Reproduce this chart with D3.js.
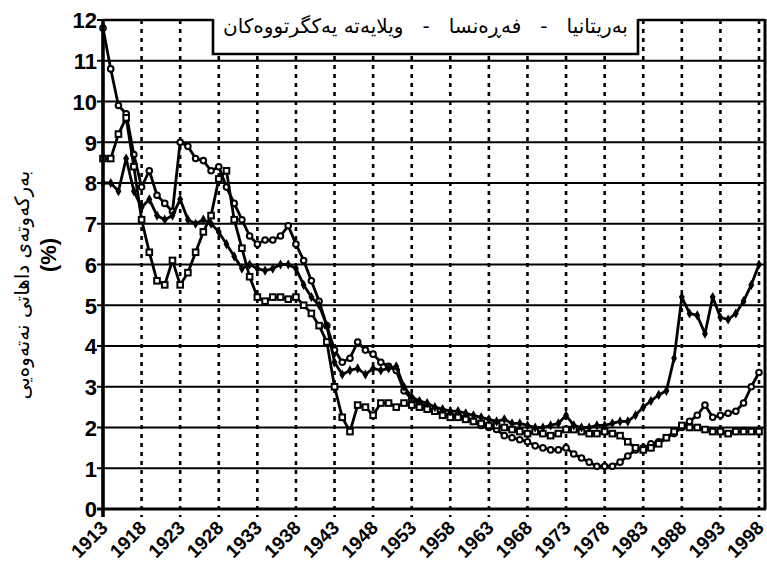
<!DOCTYPE html>
<html>
<head>
<meta charset="utf-8">
<script src="https://cdnjs.cloudflare.com/ajax/libs/d3/7.8.5/d3.min.js"></script>
<style>
  body { margin: 0; background: #fff; }
  svg { display: block; }
</style>
</head>
<body>
<svg id="chart" width="767" height="579"></svg>
<script>
// years on the x axis
var years = [
  1913, 1914, 1915, 1916, 1917, 1918, 1919, 1920, 1921, 1922,
  1923, 1924, 1925, 1926, 1927, 1928, 1929, 1930, 1931, 1932,
  1933, 1934, 1935, 1936, 1937, 1938, 1939, 1940, 1941, 1942,
  1943, 1944, 1945, 1946, 1947, 1948, 1949, 1950, 1951, 1952,
  1953, 1954, 1955, 1956, 1957, 1958, 1959, 1960, 1961, 1962,
  1963, 1964, 1965, 1966, 1967, 1968, 1969, 1970, 1971, 1972,
  1973, 1974, 1975, 1976, 1977, 1978, 1979, 1980, 1981, 1982,
  1983, 1984, 1985, 1986, 1987, 1988, 1989, 1990, 1991, 1992,
  1993, 1994, 1995, 1996, 1997, 1998
];

// بەریتانیا
var britain = [
  11.8, 10.8, 9.9, 9.7, 8.7, 7.9, 8.3, 7.7, 7.5, 7.3,
  9.0, 8.9, 8.6, 8.55, 8.3, 8.4, 7.9, 7.5, 7.1, 6.7,
  6.5, 6.6, 6.6, 6.7, 6.95, 6.5, 6.1, 5.6, 5.1, 4.5,
  3.9, 3.6, 3.7, 4.1, 3.9, 3.8, 3.6, 3.5, 3.4, 2.9,
  2.7, 2.6, 2.5, 2.4, 2.35, 2.3, 2.3, 2.25, 2.15, 2.05,
  2.0, 1.95, 1.8, 1.75, 1.7, 1.65, 1.55, 1.5, 1.45, 1.45,
  1.5, 1.35, 1.25, 1.15, 1.05, 1.05, 1.05, 1.15, 1.3, 1.45,
  1.5, 1.6, 1.65, 1.75, 1.85, 2.0, 2.15, 2.3, 2.55, 2.25,
  2.3, 2.35, 2.4, 2.6, 3.0, 3.35
];

// فەڕەنسا
var france = [
  8.6, 8.6, 9.2, 9.6, 8.4, 7.1, 6.3, 5.6, 5.5, 6.1,
  5.5, 5.8, 6.3, 6.8, 7.2, 8.1, 8.3, 7.1, 6.4, 5.7,
  5.2, 5.1, 5.2, 5.2, 5.15, 5.2, 5.0, 4.8, 4.5, 4.1,
  3.0, 2.25, 1.9, 2.55, 2.5, 2.3, 2.6, 2.6, 2.5, 2.6,
  2.55, 2.5, 2.45, 2.4, 2.3, 2.25, 2.25, 2.2, 2.15, 2.1,
  2.05, 2.05, 2.0, 1.95, 1.9, 1.85, 1.9, 1.85, 1.8, 1.85,
  1.95, 1.95, 1.9, 1.85, 1.85, 1.9, 1.85, 1.8, 1.65, 1.5,
  1.45, 1.5, 1.6, 1.75, 1.9, 2.05, 2.0, 2.0, 1.95, 1.9,
  1.9, 1.85, 1.9, 1.9, 1.9, 1.9
];

// ویلایەتە یەکگرتووەکان
var usa = [
  8.0, 8.0, 7.8, 8.6, 7.8, 7.4, 7.6, 7.2, 7.1, 7.2,
  7.6, 7.1, 7.0, 7.1, 7.0, 6.8, 6.5, 6.2, 5.9, 6.0,
  5.9, 5.85, 5.9, 6.0, 6.0, 5.9, 5.5, 5.2, 5.0, 4.5,
  3.6, 3.3, 3.4, 3.45, 3.3, 3.45, 3.4, 3.45, 3.5, 3.0,
  2.75, 2.65, 2.6, 2.5, 2.45, 2.4, 2.4, 2.35, 2.3, 2.25,
  2.2, 2.15, 2.2, 2.1, 2.1, 2.05, 2.0, 2.0, 2.05, 2.1,
  2.3, 2.05, 2.0, 2.0, 2.05, 2.05, 2.1, 2.15, 2.15, 2.3,
  2.5, 2.65, 2.8, 2.9, 3.7, 5.2, 4.8, 4.75, 4.3, 5.2,
  4.7, 4.65, 4.8, 5.1, 5.5, 6.0
];

var yTicks = [0, 1, 2, 3, 4, 5, 6, 7, 8, 9, 10, 11, 12];
var xTickLabels = ["1913", "1918", "1923", "1928", "1933", "1938", "1943", "1948", "1953",
                   "1958", "1963", "1968", "1973", "1978", "1983", "1988", "1993", "1998"];
var legendText = "بەریتانیا   -   فەڕەنسا   -   ویلایەتە یەکگرتووەکان";
var yTitle = "بەرکەوتەی داهاتی نەتەوەیی";
var yUnit = "(%)";

var svg = d3.select("#chart");
// note: "top" is a reserved window property, so plot edges get their own names
var plotL = 103, plotR = 765, plotT = 20, plotB = 509;
var boxL = 213, boxR = 638, boxB = 54;

var x = d3.scaleLinear().domain([1913, 1998]).range([plotL, 759]);
var y = d3.scaleLinear().domain([0, 12]).range([plotB, plotT]);

var tickFont = "'Liberation Sans', Arial, sans-serif";

// horizontal grid lines (solid)
svg.append("g").selectAll("line")
  .data(yTicks.filter(function(d){ return d > 0 && d < 12; }))
  .enter().append("line")
    .attr("x1", plotL).attr("x2", plotR)
    .attr("y1", function(d){ return y(d); })
    .attr("y2", function(d){ return y(d); })
    .attr("stroke", "#000").attr("stroke-width", 2.2);

// vertical grid lines (dotted)
svg.append("g").selectAll("line")
  .data(xTickLabels.slice(1))
  .enter().append("line")
    .attr("x1", function(d){ return x(+d); })
    .attr("x2", function(d){ return x(+d); })
    .attr("y1", plotT).attr("y2", plotB + 8)
    .attr("stroke", "#000").attr("stroke-width", 2.6)
    .attr("stroke-dasharray", "4,5");

// series
var series = [
  { name: "britain", values: britain, marker: "circle" },
  { name: "france", values: france, marker: "square" },
  { name: "usa", values: usa, marker: "diamond" }
];

var line = d3.line()
  .x(function(d, i){ return x(years[i]); })
  .y(function(d){ return y(d); });

series.forEach(function(s){
  var g = svg.append("g").attr("class", "series-" + s.name);
  g.append("path")
    .attr("d", line(s.values))
    .attr("fill", "none")
    .attr("stroke", "#000")
    .attr("stroke-width", 2.8)
    .attr("stroke-linejoin", "round");

  var pts = g.selectAll(".pt").data(s.values).enter();
  if(s.marker === "circle"){
    pts.append("circle")
      .attr("cx", function(d, i){ return x(years[i]); })
      .attr("cy", function(d){ return y(d); })
      .attr("r", 2.8)
      .attr("fill", "#fff").attr("stroke", "#000").attr("stroke-width", 2);
  }else if(s.marker === "square"){
    pts.append("rect")
      .attr("x", function(d, i){ return x(years[i]) - 2.8; })
      .attr("y", function(d){ return y(d) - 2.8; })
      .attr("width", 5.6).attr("height", 5.6)
      .attr("fill", "#fff").attr("stroke", "#000").attr("stroke-width", 2);
  }else{
    pts.append("path")
      .attr("d", d3.symbol().type(d3.symbolDiamond).size(30))
      .attr("transform", function(d, i){ return "translate(" + x(years[i]) + "," + y(d) + ")"; })
      .attr("fill", "#000");
  }
});

// legend box, sits over the top of the plot
svg.append("rect")
  .attr("x", boxL).attr("y", 0).attr("width", boxR - boxL).attr("height", boxB)
  .attr("fill", "#fff");
svg.append("path")
  .attr("d", "M" + boxL + "," + (plotT - 1) + "V" + boxB + "H" + boxR + "V" + (plotT - 1))
  .attr("fill", "none").attr("stroke", "#000").attr("stroke-width", 2.6);
svg.append("text")
  .attr("x", (boxL + boxR) / 2).attr("y", 33)
  .attr("text-anchor", "middle")
  .attr("direction", "rtl")
  .style("white-space", "pre")
  .attr("font-family", "'DejaVu Sans', sans-serif")
  .attr("font-size", 20)
  .text(legendText);

// frame
svg.append("path")
  .attr("d", "M" + plotL + "," + plotT + "H" + boxL + "M" + boxR + "," + plotT + "H" + plotR)
  .attr("stroke", "#000").attr("stroke-width", 2.6);
svg.append("line")
  .attr("x1", plotR).attr("x2", plotR).attr("y1", plotT - 1).attr("y2", plotB)
  .attr("stroke", "#000").attr("stroke-width", 3);
svg.append("line")
  .attr("x1", plotL - 6).attr("x2", plotR + 1).attr("y1", plotB).attr("y2", plotB)
  .attr("stroke", "#000").attr("stroke-width", 2.8);
svg.append("line")
  .attr("x1", plotL).attr("x2", plotL).attr("y1", plotT - 1).attr("y2", plotB + 8)
  .attr("stroke", "#000").attr("stroke-width", 3.6);

// y axis ticks and labels
var yAxis = svg.append("g");
yAxis.selectAll("line").data(yTicks).enter().append("line")
  .attr("x1", plotL - 6).attr("x2", plotL)
  .attr("y1", function(d){ return y(d); }).attr("y2", function(d){ return y(d); })
  .attr("stroke", "#000").attr("stroke-width", 2);
yAxis.selectAll("text").data(yTicks).enter().append("text")
  .attr("x", 97)
  .attr("y", function(d){ return y(d); })
  .attr("dy", "0.38em")
  .attr("text-anchor", "end")
  .attr("font-family", tickFont)
  .attr("font-weight", "bold")
  .attr("font-size", 22)
  .text(function(d){ return d; });

// x axis labels, slanted
svg.append("g").selectAll("text").data(xTickLabels).enter().append("text")
  .attr("transform", function(d){ return "translate(" + (x(+d) + 6) + ",529) rotate(-45)"; })
  .attr("text-anchor", "end")
  .attr("font-family", tickFont)
  .attr("font-weight", "bold")
  .attr("font-size", 19)
  .text(function(d){ return d; });

// y axis title
svg.append("text")
  .attr("transform", "translate(29,285) rotate(-90)")
  .attr("text-anchor", "middle")
  .attr("direction", "rtl")
  .attr("font-family", "'DejaVu Sans', sans-serif")
  .attr("font-size", 20)
  .text(yTitle);
svg.append("text")
  .attr("transform", "translate(56,255) rotate(-90)")
  .attr("text-anchor", "middle")
  .attr("font-family", tickFont)
  .attr("font-weight", "bold")
  .attr("font-size", 22)
  .text(yUnit);
</script>
</body>
</html>
